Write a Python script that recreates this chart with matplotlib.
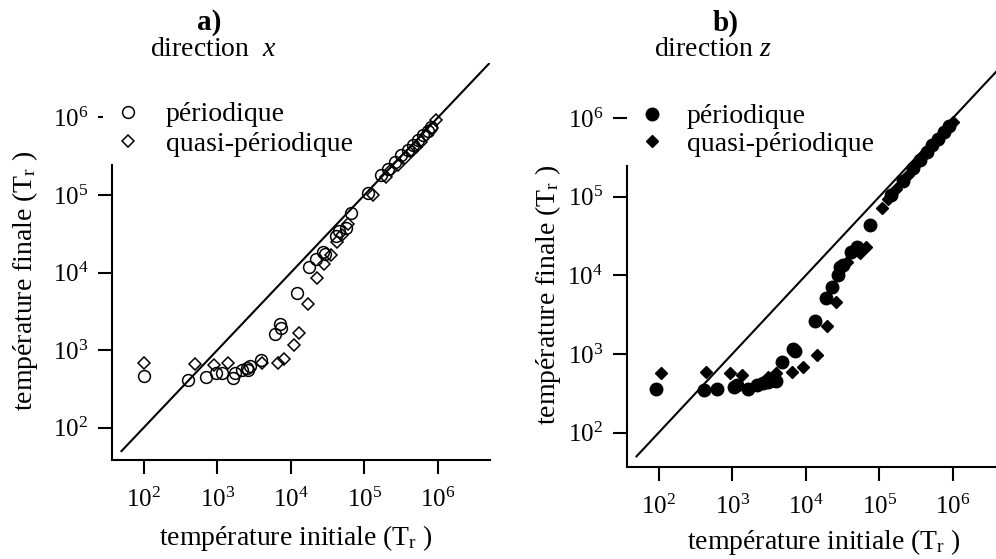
import matplotlib
matplotlib.use('Agg')
import matplotlib.pyplot as plt
from matplotlib.patches import Rectangle
from matplotlib.ticker import NullLocator
from matplotlib.lines import Line2D

plt.rcParams['font.family'] = ['Liberation Serif', 'DejaVu Serif']
plt.rcParams['mathtext.fontset'] = 'custom'
plt.rcParams['mathtext.rm'] = 'Liberation Serif'
plt.rcParams['mathtext.it'] = 'Liberation Serif:italic'
plt.rcParams['mathtext.bf'] = 'Liberation Serif:bold'

# panel a) direction x
ax_per_x = [100, 400, 700, 955, 1150, 1620, 1740, 2140, 2510, 2630, 2820, 3980,
            6030, 7080, 7410, 12000, 17400, 21900, 26900, 29000, 40700, 45700,
            56200, 64600, 112000, 170000, 209000, 257000, 316000, 389000,
            457000, 537000, 617000, 724000, 813000]
ay_per_x = [470, 410, 455, 500, 510, 440, 500, 550, 590, 550, 620, 740,
            1620, 2190, 1910, 5500, 11700, 14800, 18600, 17500, 29500, 33900,
            37200, 58900, 105000, 182000, 219000, 269000, 324000, 380000,
            437000, 513000, 589000, 676000, 759000]
ax_qp_x = [102, 500, 890, 1380, 4070, 6600, 7940, 11000, 12900, 17000, 22400,
           27900, 35500, 41700, 49000, 58900, 129000, 195000, 229000, 282000,
           351000, 437000, 501000, 589000, 692000, 832000, 944000]
ay_qp_x = [676, 660, 645, 676, 690, 676, 776, 1170, 1660, 3890, 8410,
           12900, 17000, 24500, 30200, 42700, 100000, 170000, 209000, 245000,
           295000, 363000, 417000, 484000, 589000, 724000, 912000]

# panel b) direction z
bx_per_z = [93, 412, 630, 1050, 1170, 1660, 2140, 2630, 3090, 3630, 3980, 4790,
            6760, 7080, 13200, 18600, 22400, 27500, 28800, 32400, 41700, 49000,
            74100, 145000, 209000, 288000, 355000, 437000, 525000, 631000,
            759000, 891000]
by_per_z = [355, 347, 355, 380, 400, 363, 400, 427, 447, 468, 457, 794,
            1150, 1100, 2630, 5130, 7160, 10000, 12600, 13500, 20000, 22900,
            43700, 105000, 160000, 232000, 295000, 372000, 450000, 545000,
            660000, 800000]
bx_qp_z = [107, 447, 933, 1350, 3090, 3980, 6460, 9020, 14000, 19100, 25700,
           36300, 53700, 66100, 107000, 132000, 170000, 245000, 316000, 398000,
           479000, 575000, 692000, 832000, 1000000]
by_qp_z = [569, 596, 569, 537, 513, 569, 596, 692, 977, 2240, 4570,
           14800, 19100, 22900, 70800, 92000, 124000, 190000, 262000, 335000,
           405000, 500000, 605000, 735000, 890000]

diag = [50, 5e6]
xticks = [1e2, 1e3, 1e4, 1e5, 1e6]
yticks = [1e2, 1e3, 1e4, 1e5, 1e6]
labels = ['périodique', 'quasi-périodique']

W, H = 996, 559
fig = plt.figure(figsize=(W / 100, H / 100), dpi=100)


def setup(ax, xlo, ylo, ytop, xlab, ylab):
    ax.set_xscale('log')
    ax.set_yscale('log')
    ax.set_xlim(10 ** xlo, 10 ** 6.705)
    ax.set_ylim(10 ** ylo, 10 ** 6.70)
    ax.set_xticks(xticks)
    ax.set_yticks(yticks)
    ax.xaxis.set_minor_locator(NullLocator())
    ax.yaxis.set_minor_locator(NullLocator())
    for s in ['top', 'right']:
        ax.spines[s].set_visible(False)
    for s in ['left', 'bottom']:
        ax.spines[s].set_linewidth(1.5)
    # left axis line stops below the legend block
    ax.spines['left'].set_bounds(10 ** ylo, 10 ** ytop)
    ax.tick_params(direction='out', length=10, width=1.5, labelsize=18)
    ax.tick_params(axis='x', pad=10)
    ax.tick_params(axis='y', pad=7)
    ax.plot(diag, diag, color='black', lw=1.5, zorder=2)
    ax.set_xlabel('température initiale (T$_\\mathrm{r}$ )', fontsize=20, va='center')
    ax.set_ylabel('température finale (T$_\\mathrm{r}$ )', fontsize=20, va='center')
    ax.xaxis.set_label_coords(*xlab)
    ax.yaxis.set_label_coords(*ylab)


# panel a
ax1 = fig.add_axes([112 / W, 99 / H, 378 / W, 397 / H])
setup(ax1, 1.570, 1.584, 5.385, (0.487, -0.196), (-0.230, 0.452))
ax1.plot(ax_per_x, ay_per_x, 'o', ms=8.5, mfc='none', mec='black', mew=1.1, zorder=3)
ax1.plot(ax_qp_x, ay_qp_x, 'D', ms=6.2, mfc='none', mec='black', mew=1.1, zorder=3)
# legend block hides most of the 10^6 tick
ax1.add_patch(Rectangle((103 / W, (H - 135) / H), 20 / W, 35 / H,
                        transform=fig.transFigure, facecolor='white',
                        edgecolor='none', zorder=4, clip_on=False))
h1 = [Line2D([], [], ls='none', marker='o', ms=8.5, mfc='none', mec='black', mew=1.1),
      Line2D([], [], ls='none', marker='D', ms=6.2, mfc='none', mec='black', mew=1.1)]
ax1.legend(h1, labels, loc='upper left', bbox_to_anchor=(114 / W, (H - 102) / H),
           bbox_transform=fig.transFigure, frameon=False, fontsize=20,
           handlelength=1.0, handletextpad=0.87, labelspacing=0.15,
           borderpad=0, borderaxespad=0)
fig.text(209 / W, 1 - 22 / H, 'a)', ha='center', va='center', fontsize=21, fontweight='bold')
fig.text(213 / W, 1 - 50 / H, 'direction  $\\mathit{x}$', ha='center', va='center', fontsize=20)

# panel b
ax2 = fig.add_axes([626.7 / W, 92.3 / H, 378.2 / W, 403.9 / H])
setup(ax2, 1.566, 1.568, 5.39, (0.522, -0.186), (-0.208, 0.425))
ax2.plot(bx_per_z, by_per_z, 'o', ms=9, color='black', zorder=3)
ax2.plot(bx_qp_z, by_qp_z, 'D', ms=6.5, color='black', zorder=3)
h2 = [Line2D([], [], ls='none', marker='o', ms=9, color='black'),
      Line2D([], [], ls='none', marker='D', ms=6.5, color='black')]
ax2.legend(h2, labels, loc='upper left', bbox_to_anchor=(638 / W, (H - 104) / H),
           bbox_transform=fig.transFigure, frameon=False, fontsize=20,
           handlelength=1.0, handletextpad=0.76, labelspacing=0.08,
           borderpad=0, borderaxespad=0)
fig.text(726 / W, 1 - 23 / H, 'b)', ha='center', va='center', fontsize=21, fontweight='bold')
fig.text(713 / W, 1 - 50 / H, 'direction $\\mathit{z}$', ha='center', va='center', fontsize=20)

fig.savefig('out.png', dpi=100)
